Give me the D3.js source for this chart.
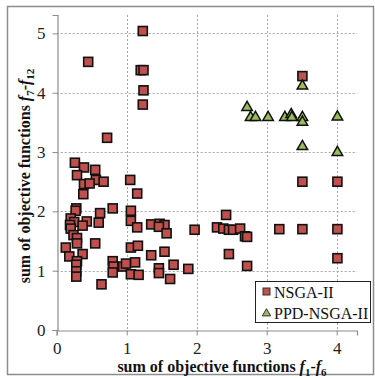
<!DOCTYPE html>
<html>
<head>
<meta charset="utf-8">
<script src="https://cdn.jsdelivr.net/npm/d3@7"></script>
<style>
  html, body { margin: 0; padding: 0; background: #fff; }
  svg { display: block; }
</style>
</head>
<body>
<div id="chart"></div>
<script>
// NSGA-II points [f1-f6 sum, f7-f12 sum]
const nsgaX = [1.23, 0.45, 1.20, 1.24, 1.24, 1.23, 0.72, 0.26, 0.39, 0.55, 0.29, 0.56, 0.39, 0.47, 0.67,
  1.05, 0.38, 1.15, 0.28, 0.27, 0.80, 0.62, 1.06, 0.20, 0.43, 0.25, 0.60, 0.19, 0.37, 0.20,
  1.06, 1.15, 1.35, 1.47, 1.54, 1.46, 1.57, 1.97, 0.24, 0.29, 0.29, 0.55, 0.13, 0.37, 0.18,
  0.29, 0.28, 0.28, 0.28, 0.64, 0.80, 0.81, 0.80, 0.95, 0.99, 1.06, 1.16, 1.12, 1.06, 1.17,
  1.54, 1.35, 1.46, 1.46, 1.67, 1.62, 1.88, 2.42, 2.29, 2.38, 2.46, 2.52, 2.62, 2.69, 2.72,
  3.18, 3.51, 4.01, 2.46, 2.72, 4.01, 3.51, 3.51, 4.01];
const nsgaY = [5.04, 4.52, 4.38, 4.38, 4.04, 3.80, 3.24, 2.82, 2.74, 2.70, 2.61, 2.53, 2.46, 2.47, 2.50,
  2.53, 2.29, 2.30, 2.05, 2.01, 2.05, 1.97, 2.01, 1.88, 1.83, 1.82, 1.81, 1.77, 1.76, 1.71,
  1.84, 1.73, 1.78, 1.79, 1.77, 1.74, 1.63, 1.69, 1.60, 1.55, 1.46, 1.46, 1.39, 1.28, 1.24,
  1.16, 1.10, 0.99, 0.90, 0.77, 1.16, 1.07, 0.97, 1.07, 1.12, 1.39, 1.42, 1.14, 0.94, 0.93,
  1.32, 1.26, 1.04, 0.96, 1.10, 0.86, 1.03, 1.94, 1.73, 1.71, 1.69, 1.69, 1.71, 1.58, 1.57,
  1.70, 1.70, 1.70, 1.28, 1.08, 1.21, 4.28, 2.50, 2.50];

// PPD-NSGA-II points
const ppdX = [2.72, 2.77, 2.84, 3.02, 3.26, 3.35, 3.36, 3.51, 3.51, 3.51, 3.51, 4.01, 4.01];
const ppdY = [3.77, 3.60, 3.60, 3.60, 3.60, 3.65, 3.60, 4.13, 3.60, 3.52, 3.11, 3.61, 3.01];

const xTicks = [0, 1, 2, 3, 4];
const yTicks = [0, 1, 2, 3, 4, 5];
const seriesNames = ["NSGA-II", "PPD-NSGA-II"];

const W = 375, H = 378;
const FONT = "'Liberation Serif', 'Times New Roman', serif";

const svg = d3.select("#chart").append("svg")
  .attr("width", W).attr("height", H);

// outer chart frame
svg.append("rect")
  .attr("x", 7.5).attr("y", 6.5)
  .attr("width", 366).attr("height", 368)
  .attr("fill", "#fff")
  .attr("stroke", "#8c8c8c")
  .attr("stroke-width", 1.5);

const x = d3.scaleLinear().domain([0, 4.29]).range([56.7, 357]);
const y = d3.scaleLinear().domain([0, 5.31]).range([330, 15]);

// gridlines
svg.append("g").selectAll("line")
  .data(yTicks.filter(d => d > 0))
  .join("line")
  .attr("x1", x(0)).attr("x2", x(4.29))
  .attr("y1", d => Math.round(y(d)) + 0.5).attr("y2", d => Math.round(y(d)) + 0.5)
  .attr("stroke", "#a6a6a6").attr("stroke-dasharray", "2,2");
svg.append("g").selectAll("line")
  .data(xTicks.filter(d => d > 0))
  .join("line")
  .attr("x1", d => Math.round(x(d)) + 0.5).attr("x2", d => Math.round(x(d)) + 0.5)
  .attr("y1", y(5.31)).attr("y2", y(0))
  .attr("stroke", "#a6a6a6").attr("stroke-dasharray", "2,2");

// axes
const axisX = svg.append("g")
  .attr("transform", "translate(0," + (Math.round(y(0)) + 0.5) + ")")
  .call(d3.axisBottom(x).tickValues(xTicks).tickFormat(d3.format("d")).tickSize(5).tickPadding(6));
const axisY = svg.append("g")
  .attr("transform", "translate(" + (Math.round(x(0)) + 0.5) + ",0)")
  .call(d3.axisLeft(y).tickValues(yTicks).tickFormat(d3.format("d")).tickSize(5).tickPadding(7));

[axisX, axisY].forEach(a => {
  a.select(".domain").attr("stroke", "#8c8c8c").attr("stroke-width", 1.2);
  a.selectAll(".tick line").attr("stroke", "#8c8c8c");
  a.selectAll("text")
    .attr("fill", "#222")
    .style("font-family", FONT)
    .style("font-size", "17px");
});

// NSGA-II squares
const sq = 9;
svg.append("g").selectAll("rect")
  .data(nsgaX.map((v, i) => [v, nsgaY[i]]))
  .join("rect")
  .attr("x", d => x(d[0]) - sq / 2)
  .attr("y", d => y(d[1]) - sq / 2)
  .attr("width", sq).attr("height", sq)
  .attr("fill", "#c0504d")
  .attr("stroke", "#111")
  .attr("stroke-width", 1.6);

// PPD-NSGA-II triangles
const tri = d3.symbol().type(d3.symbolTriangle).size(48);
svg.append("g").selectAll("path")
  .data(ppdX.map((v, i) => [v, ppdY[i]]))
  .join("path")
  .attr("d", tri)
  .attr("transform", d => "translate(" + x(d[0]) + "," + (y(d[1]) + 1) + ")")
  .attr("fill", "#9bbb59")
  .attr("stroke", "#111")
  .attr("stroke-width", 1.5);

// axis titles
const xTitle = svg.append("text")
  .attr("x", 222).attr("y", 372)
  .attr("text-anchor", "middle")
  .style("font-family", FONT).style("font-size", "16px").style("font-weight", "bold")
  .attr("fill", "#111");
xTitle.append("tspan").text("sum of objective functions ");
xTitle.append("tspan").style("font-style", "italic").text("f");
xTitle.append("tspan").attr("dy", 4).style("font-size", "11px").text("1");
xTitle.append("tspan").attr("dy", -4).text("-");
xTitle.append("tspan").style("font-style", "italic").text("f");
xTitle.append("tspan").attr("dy", 4).style("font-size", "11px").text("6");

const yTitle = svg.append("text")
  .attr("transform", "translate(30,176) rotate(-90)")
  .attr("text-anchor", "middle")
  .style("font-family", FONT).style("font-size", "16px").style("font-weight", "bold")
  .attr("fill", "#111");
yTitle.append("tspan").text("sum of objective functions ");
yTitle.append("tspan").style("font-style", "italic").text("f");
yTitle.append("tspan").attr("dy", 4).style("font-size", "11px").text("7");
yTitle.append("tspan").attr("dy", -4).text("-");
yTitle.append("tspan").style("font-style", "italic").text("f");
yTitle.append("tspan").attr("dy", 4).style("font-size", "11px").text("12");

// legend
const lg = svg.append("g");
lg.append("rect")
  .attr("x", 255.5).attr("y", 281.5)
  .attr("width", 115).attr("height", 41)
  .attr("fill", "#fff").attr("stroke", "#222").attr("stroke-width", 1);
lg.append("rect")
  .attr("x", 263).attr("y", 288).attr("width", 7).attr("height", 7)
  .attr("fill", "#c0504d").attr("stroke", "#333").attr("stroke-width", 1);
lg.append("path")
  .attr("d", d3.symbol().type(d3.symbolTriangle).size(30))
  .attr("transform", "translate(266.5,313.5)")
  .attr("fill", "#9bbb59").attr("stroke", "#333").attr("stroke-width", 1);
lg.selectAll("text.lab")
  .data(seriesNames)
  .join("text")
  .attr("class", "lab")
  .attr("x", 274).attr("y", (d, i) => 297.5 + i * 21)
  .style("font-family", FONT).style("font-size", "16px")
  .attr("fill", "#111")
  .text(d => d);
</script>
</body>
</html>
